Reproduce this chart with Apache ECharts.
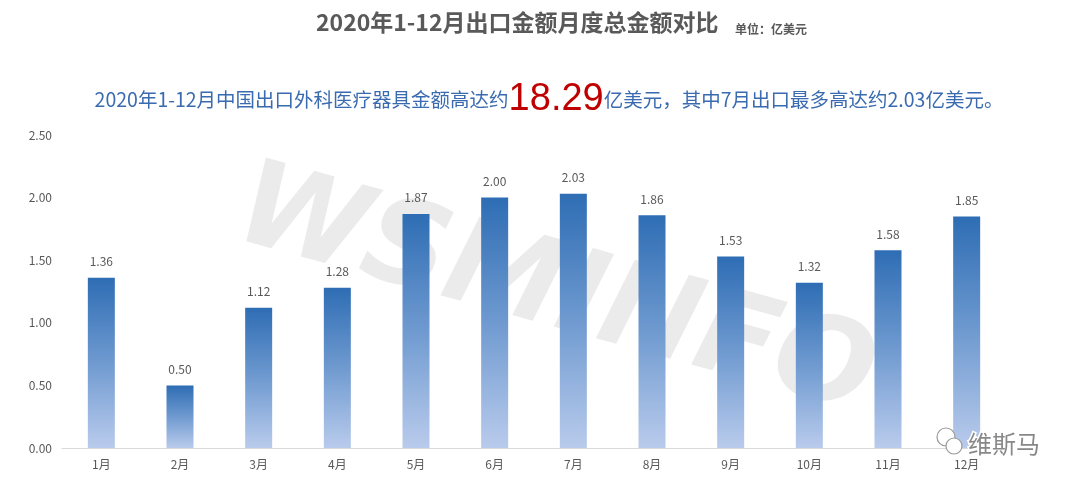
<!DOCTYPE html>
<html><head><meta charset="utf-8">
<script src="https://cdn.jsdelivr.net/npm/echarts@6/dist/echarts.min.js"></script>
<style>html,body{margin:0;padding:0;background:#fff}#c{width:1080px;height:493px}</style>
</head><body><div id="c"></div>
<script>
const categories = ['1月','2月','3月','4月','5月','6月','7月','8月','9月','10月','11月','12月'];
const values = [1.36,0.50,1.12,1.28,1.87,2.00,2.03,1.86,1.53,1.32,1.58,1.85];
const yTicks = [0, 0.5, 1.0, 1.5, 2.0, 2.5];
const titleText = '2020年1-12月出口金额月度总金额对比';
const unitText = '单位：亿美元';
const subA = '2020年1-12月中国出口外科医疗器具金额高达约';
const subBig = '18.29';
const subB = '亿美元，其中7月出口最多高达约2.03亿美元。';

const chart = echarts.init(document.getElementById('c'));
const font = '"Noto Sans CJK SC","Microsoft YaHei",sans-serif';
chart.setOption({
  animation: false,
  textStyle: {fontFamily: font},
  grid: {left: 62, right: 74, top: 135, bottom: 45},
  graphic: [
    {type:'text', x: 555, y: 295, rotation: -0.27, z: 0,
      style:{text:'WSMINFO', font:'italic bold 118px "DejaVu Sans", sans-serif', fill:'rgba(195,195,195,0.33)', align:'center', verticalAlign:'middle'}},
    {type:'text', x: 316, y: 11, style:{text:titleText, font:'bold 23px ' + font, fill:'#595959'}},
    {type:'text', x: 735, y: 23, style:{text:unitText, font:'bold 12px ' + font, fill:'#595959'}},
    {type:'text', x: 549, y: 100,
      style:{
        text:'{a|' + subA + '}{b|' + subBig + '}{a|' + subB + '}',
        align:'center', verticalAlign:'middle',
        rich:{
          a:{fontSize:19.5, fontFamily:font, fill:'#3A6BB0', color:'#3A6BB0'},
          b:{fontSize:38, fontFamily:'"Liberation Sans", Arial, sans-serif', fill:'#C00000', color:'#C00000'}
        }
      }},
    {type:'text', x: 968, y: 444, z: 10,
      style:{text:'维斯马', font:'24px ' + font, fill:'#888', stroke:'#fff', lineWidth:3, verticalAlign:'middle'}},
    {type:'circle', shape:{cx:946, cy:437, r:9}, z: 10, style:{fill:'#fff', stroke:'#999', lineWidth:1.2}},
    {type:'circle', shape:{cx:954, cy:446, r:8}, z: 10, style:{fill:'#fff', stroke:'#999', lineWidth:1.2}}
  ],
  xAxis: {
    type:'category', data: categories,
    axisLine:{lineStyle:{color:'#D9D9D9', width:1}},
    axisTick:{show:false},
    axisLabel:{color:'#595959', fontSize:12, margin:10}
  },
  yAxis: {
    type:'value', min: 0, max: 2.5, interval: 0.5,
    axisLine:{show:false}, axisTick:{show:false},
    splitLine:{show:false},
    axisLabel:{color:'#595959', fontSize:12, margin:10,
      formatter: v => yTicks.includes(v) ? v.toFixed(2) : ''}
  },
  series: [{
    type:'bar', data: values, barWidth: 27,
    itemStyle:{color: new echarts.graphic.LinearGradient(0,0,0,1,[
      {offset:0, color:'#2E6DB4'},
      {offset:0.5, color:'#6F9AD0'},
      {offset:1, color:'#B9CBEC'}
    ])},
    label:{show:true, position:'top', distance:10, color:'#595959', fontSize:12,
      formatter: p => p.value.toFixed(2)}
  }]
});
</script></body></html>
